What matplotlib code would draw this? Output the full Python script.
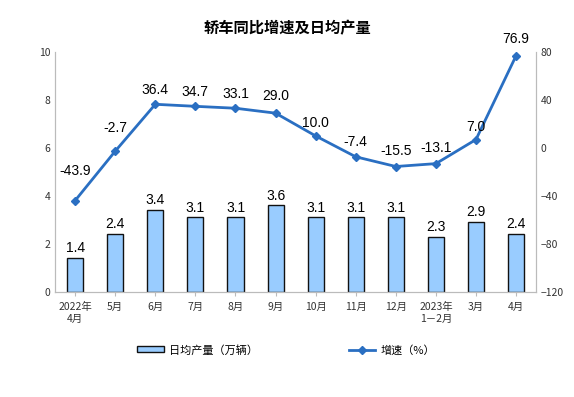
import matplotlib
matplotlib.use('Agg')
import matplotlib.pyplot as plt

plt.rcParams['font.family'] = ['Noto Sans CJK SC', 'DejaVu Sans']

categories = ['2022年\n4月', '5月', '6月', '7月', '8月', '9月', '10月', '11月', '12月',
              '2023年\n1－2月', '3月', '4月']
daily_output = [1.4, 2.4, 3.4, 3.1, 3.1, 3.6, 3.1, 3.1, 3.1, 2.3, 2.9, 2.4]
growth = [-43.9, -2.7, 36.4, 34.7, 33.1, 29.0, 10.0, -7.4, -15.5, -13.1, 7.0, 76.9]

bar_color = '#99ccff'
line_color = '#2a6fc2'

# vertical offset (points) of the growth labels above their markers
label_offsets = [21, 17, 10, 10, 10, 12, 9, 11, 11, 11, 9, 12]

fig = plt.figure(figsize=(5.74, 3.97), dpi=100)
ax = fig.add_axes([0.096, 0.265, 0.838, 0.604])
ax2 = ax.twinx()

x = list(range(len(categories)))
ax.bar(x, daily_output, width=0.4, color=bar_color, edgecolor='#111111',
       linewidth=1.0, label='日均产量（万辆）', zorder=2)
for xi, v in zip(x, daily_output):
    ax.text(xi, v + 0.12, f'{v:.1f}', ha='center', va='bottom', fontsize=10,
            family='Liberation Sans')

ax.set_ylim(0, 10)
ax.set_yticks([0, 2, 4, 6, 8, 10])
ax.set_xlim(-0.5, len(categories) - 0.5)
ax.set_xticks(x)
ax.set_xticklabels(categories, fontsize=7.5, color='#333333', linespacing=1.3)

ax2.plot(x, growth, color=line_color, linewidth=2, marker='D', markersize=4,
         label='增速（%）', zorder=3)
for xi, v, off in zip(x, growth, label_offsets):
    ax2.annotate(f'{v:.1f}', (xi, v), xytext=(0, off), textcoords='offset points',
                 ha='center', va='center', fontsize=10, family='Liberation Sans')
ax2.set_ylim(-120, 80)
ax2.set_yticks([-120, -80, -40, 0, 40, 80])

for a in (ax, ax2):
    a.tick_params(axis='y', length=0, labelsize=7.5, labelcolor='#333333')
    a.spines['top'].set_visible(False)
    for s in ('left', 'right', 'bottom'):
        a.spines[s].set_color('#bbbbbb')
ax.tick_params(axis='x', length=3, color='#bbbbbb', pad=4)
ax.set_zorder(ax2.get_zorder() - 1)
ax.patch.set_visible(False)

fig.text(0.5, 0.93, '轿车同比增速及日均产量', ha='center', va='center', fontsize=11,
         fontweight='bold')

h1, l1 = ax.get_legend_handles_labels()
h2, l2 = ax2.get_legend_handles_labels()
fig.legend(h1 + h2, l1 + l2, loc='center left', bbox_to_anchor=(137 / 574, 1 - 350 / 397),
           ncol=2, frameon=False, fontsize=8, columnspacing=8.2, handlelength=2.4,
           handleheight=0.45, handletextpad=0.45, borderpad=0, borderaxespad=0)

fig.savefig('out.png', dpi=100)
